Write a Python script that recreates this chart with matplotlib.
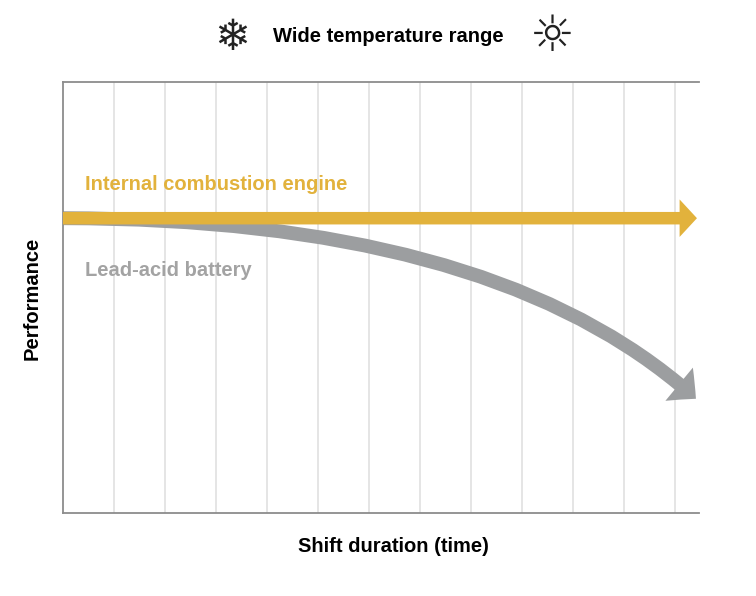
import matplotlib.pyplot as plt
from matplotlib.patches import FancyArrowPatch
from matplotlib.path import Path

# ── data (x: shift duration in grid units, y: performance 0-100) ──
grid_x = [1, 2, 3, 4, 5, 6, 7, 8, 9, 10, 11, 12]
ice_x = [0.0, 12.43]
ice_y = [68.4, 68.4]
# quadratic curve control points: start, control, tip
lead_x = [0.0, 8.5, 12.41]
lead_y = [68.4, 68.4, 26.5]

title_text = "Wide temperature range"
ice_label = "Internal combustion engine"
lead_label = "Lead-acid battery"
x_label = "Shift duration (time)"
y_label = "Performance"

YELLOW = "#E2B23C"
GRAY = "#9C9EA0"
GRAY_TXT = "#A3A3A3"
SPINE = "#8C8C8C"
GRID = "#DEDEDE"
FS = 14.5

plt.rcParams["font.family"] = ["Liberation Sans", "DejaVu Sans"]

fig = plt.figure(figsize=(7.56, 5.96), dpi=100)
ax = fig.add_axes([0.0833, 0.1393, 0.8413, 0.7231])
ax.set_xlim(0, 12.47)
ax.set_ylim(0, 100)

for gx in grid_x:
    ax.axvline(gx, color=GRID, lw=1.1, zorder=0)

for side in ["left", "bottom", "top"]:
    ax.spines[side].set_color(SPINE)
    ax.spines[side].set_linewidth(1.3)
ax.spines["right"].set_visible(False)
ax.set_xticks([]); ax.set_yticks([])

# gray curved arrow (under the yellow one)
lead_path = Path(list(zip(lead_x, lead_y)), [Path.MOVETO, Path.CURVE3, Path.CURVE3])
lead_arrow = FancyArrowPatch(path=lead_path,
                             arrowstyle="simple,head_length=16,head_width=31,tail_width=10",
                             mutation_scale=1, color=GRAY, lw=0, shrinkA=0, shrinkB=0,
                             zorder=2)
ax.add_patch(lead_arrow)

ice_arrow = FancyArrowPatch((ice_x[0], ice_y[0]), (ice_x[1], ice_y[1]),
                            arrowstyle="simple,head_length=12.5,head_width=27,tail_width=9",
                            mutation_scale=1, color=YELLOW, lw=0, shrinkA=0, shrinkB=0,
                            zorder=3)
ax.add_patch(ice_arrow)

ax.text(0.034, 0.763, ice_label, transform=ax.transAxes, color=YELLOW,
        fontsize=FS, fontweight="bold", va="center", ha="left")
ax.text(0.034, 0.563, lead_label, transform=ax.transAxes, color=GRAY_TXT,
        fontsize=FS, fontweight="bold", va="center", ha="left")

fig.text(388 / 756, 1 - 37 / 596, title_text, fontsize=FS, fontweight="bold",
         ha="center", va="center")
fig.text(232 / 756, 1 - 38 / 596, "\u2744", fontsize=31, ha="center", va="center",
         family="DejaVu Sans", color="#222222")
fig.text(552 / 756, 1 - 37 / 596, "\u263C", fontsize=36, ha="center", va="center",
         family="DejaVu Sans", color="#222222")

fig.text(393 / 756, 1 - 547 / 596, x_label, fontsize=FS, fontweight="bold",
         ha="center", va="center")
fig.text(32 / 756, 1 - 298 / 596, y_label, fontsize=FS, fontweight="bold",
         ha="center", va="center", rotation=90)

fig.savefig("out.png", dpi=100, facecolor="white")
